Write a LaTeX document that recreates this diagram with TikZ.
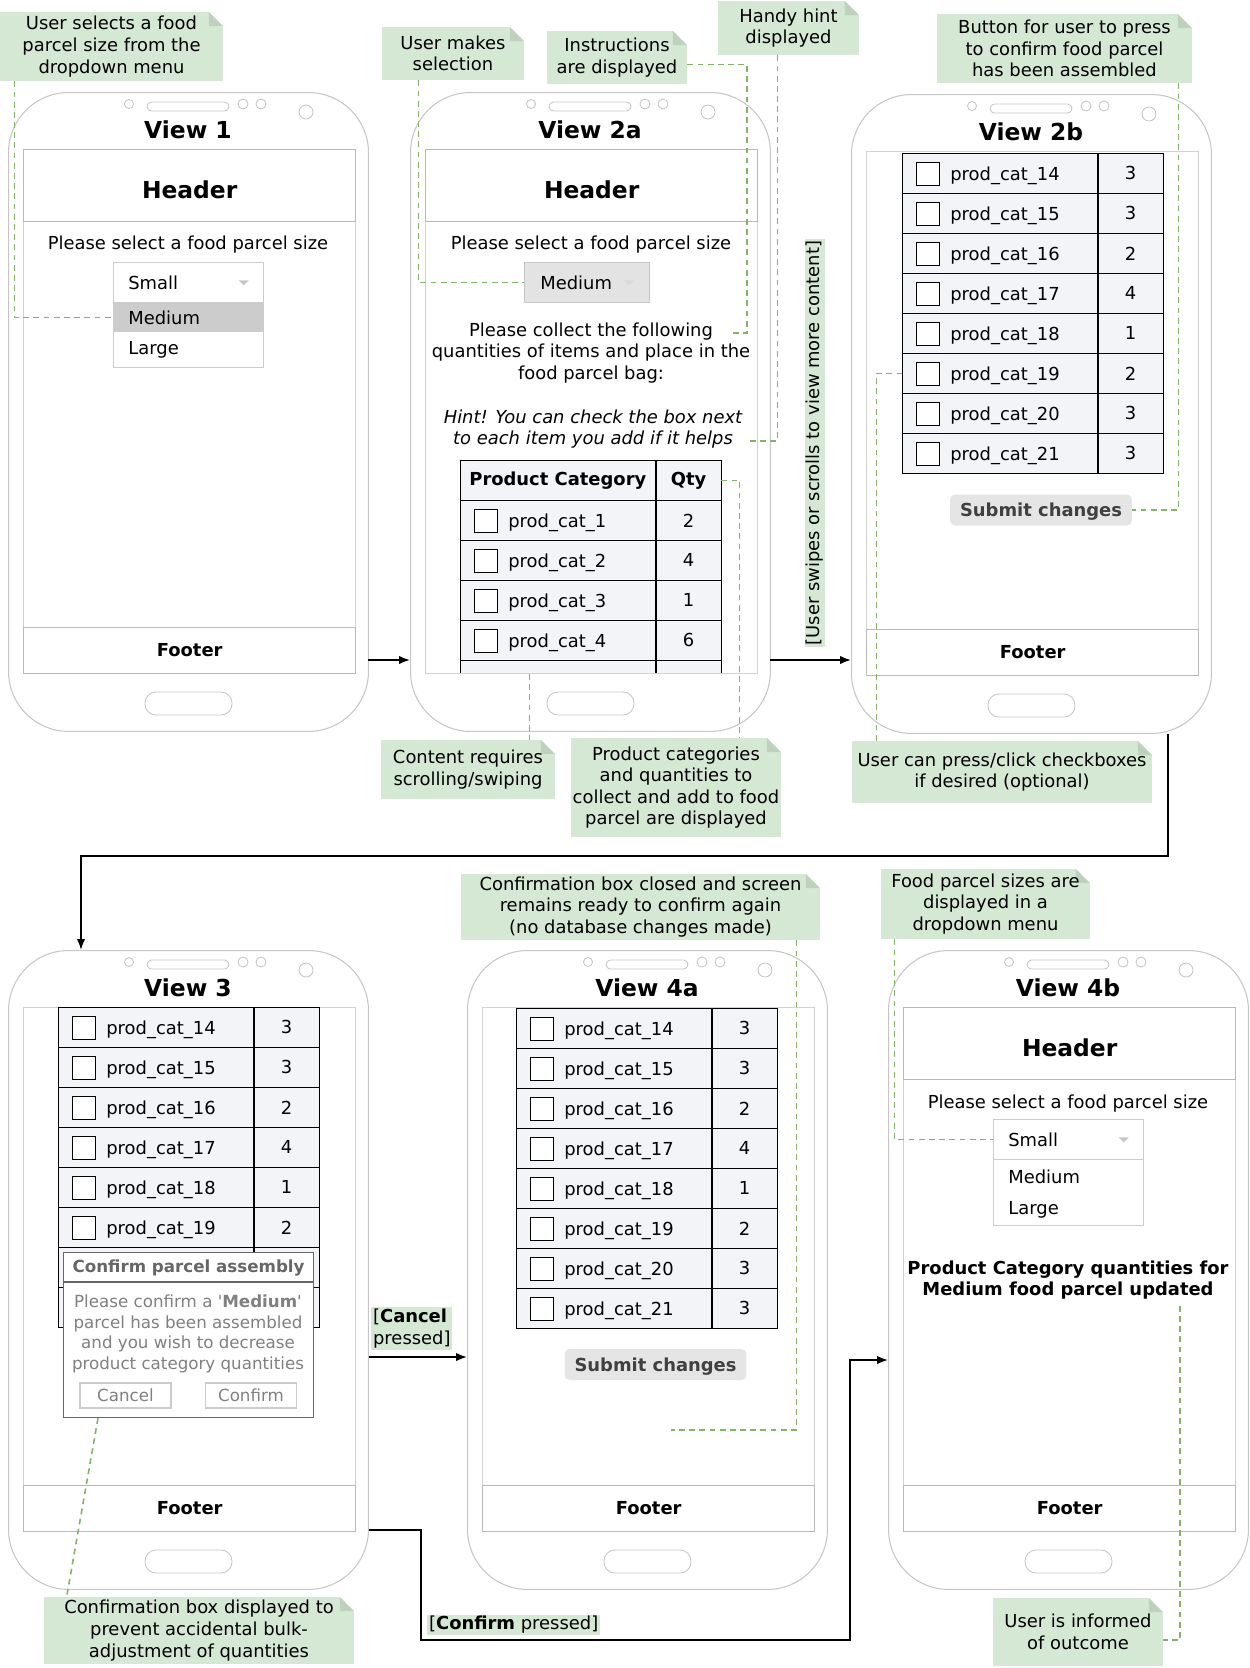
\documentclass[tikz,border=0pt]{standalone}
\usepackage{fontspec}
\setmainfont{DejaVu Sans}
\usetikzlibrary{arrows.meta, positioning, calc}

\definecolor{notegreen}{HTML}{D5E8D4}
\definecolor{notefold}{HTML}{BDD1BC}
\definecolor{linkgreen}{HTML}{82B366}
\definecolor{tablefill}{HTML}{F3F4F8}
\definecolor{hlgray}{HTML}{CCCCCC}
\definecolor{dlggray}{HTML}{666666}
\definecolor{dlgtext}{HTML}{808080}

\begin{document}
\begin{tikzpicture}[x=0.02cm, y=-0.02cm,
    phonebody/.style={draw=gray!45, line width=0.6pt, rounded corners=1.2cm,
                      minimum width=7.2cm, minimum height=12.78cm, inner sep=0pt, anchor=north west},
    screenbox/.style={draw=gray!35, line width=0.6pt, minimum width=6.64cm,
                      minimum height=10.48cm, inner sep=0pt, anchor=north west},
    phoneline/.style={draw=gray!45, line width=0.5pt},
    viewtitle/.style={font=\fontsize{13.3}{16}\selectfont\bfseries},
    bar/.style={draw=gray!55, line width=0.8pt, fill=white, minimum width=6.64cm, inner sep=0pt},
    header/.style={bar, minimum height=1.44cm, anchor=north west, text height=0.5cm,
                   font=\fontsize{13.3}{16}\selectfont\bfseries},
    footer/.style={bar, minimum height=0.92cm, anchor=south west, font=\bfseries},
    ddrow/.style={minimum height=0.8cm, text width=2.4cm, inner xsep=0.3cm, inner ysep=0pt,
                  align=left, anchor=north west},
    namecell/.style={draw, fill=tablefill, minimum width=3.9cm, minimum height=0.8cm,
                     inner sep=0pt, anchor=north west},
    qtycell/.style={draw, fill=tablefill, minimum width=1.3cm, minimum height=0.8cm,
                    inner sep=0pt, anchor=west},
    chk/.style={draw, fill=white, minimum size=0.46cm, inner sep=0pt, anchor=west},
    submit/.style={fill=gray!20, rounded corners=0.1cm, minimum width=3.64cm, text depth=0pt,
                   minimum height=0.62cm, font=\bfseries, text=black!75},
    btn/.style={draw=gray!40, line width=0.7pt, minimum width=1.82cm, minimum height=0.5cm,
                inner sep=0pt, text=dlgtext, font=\fontsize{9.5}{11.8}\selectfont},
    note/.style={fill=notegreen, align=center, inner sep=0pt,
                 path picture={
                   \fill[white] ($(path picture bounding box.north east)+(-14,0)$)
                        -- (path picture bounding box.north east) -- ++(0,14) -- cycle;
                   \fill[notefold] ($(path picture bounding box.north east)+(-14,0)$)
                        -- ++(0,14) -- ++(14,0) -- cycle;}},
    link/.style={draw=linkgreen, line width=0.9pt, dash pattern=on 3.3pt off 2.5pt},
    arrow/.style={-{Latex[length=2.2mm, width=1.7mm]}, line width=1pt},
    lbl/.style={fill=notegreen, inner sep=1pt},
    pics/phone/.style={code={
        \node[phonebody] (-body) at (0,0) {};
        \node[screenbox] (-screen) at (15,57) {};
        \draw[phoneline] (121,12) circle[radius=0.09cm];
        \draw[phoneline, rounded corners=0.09cm] (139,10) rectangle (221,19);
        \draw[phoneline] (235,12) circle[radius=0.1cm] (253,12) circle[radius=0.1cm];
        \draw[phoneline] (298,20) circle[radius=0.14cm];
        \draw[phoneline, rounded corners=0.22cm] (137,600) rectangle (224,623);
        \node[viewtitle] (-title) at (180,38) {#1};
        \coordinate (-in) at (0,568);
        \coordinate (-out) at (360,568);
    }},
]
\fontsize{10.2}{12.3}\selectfont
\useasboundingbox (0,0) rectangle (1249,1668);

% phones
\pic (v1)  at (8,92)    {phone={View 1}};
\pic (v2a) at (410,92)  {phone={View 2a}};
\pic (v2b) at (851,94)  {phone={View 2b}};
\pic (v3)  at (8,950)   {phone={View 3}};
\pic (v4a) at (467,950) {phone={View 4a}};
\pic (v4b) at (888,950) {phone={View 4b}};

\foreach \v in {v1,v2a,v4b} \node[header] (\v-hdr) at (\v-screen.north west) {Header};
\foreach \v in {v1,v2b,v3,v4a,v4b} \node[footer] (\v-ftr) at (\v-screen.south west) {Footer};

% view 1
\node (v1sel) at (188,245) {Please select a food parcel size};
\node[ddrow, draw=gray!40] (v1small) at (113,262) {Small};
\node[ddrow, fill=hlgray, minimum height=0.6cm] (v1med) at (113,302) {Medium};
\node[ddrow, minimum height=0.7cm] (v1large) at (113,332) {Large};
\draw[gray!40] (v1med.north west) rectangle (v1large.south east);
\fill[gray!45] ($(v1small.east)+(-25,-2)$) -- ++(10,0) -- ++(-5,5) -- cycle;

% view 2a
\node (v2asel) at (591,245) {Please select a food parcel size};
\node[ddrow, fill=gray!22, draw=gray!45, text width=1.86cm, inner xsep=0.32cm] (v2amed) at (524,262) {Medium};
\fill[gray!30] ($(v2amed.east)+(-26,-2)$) -- ++(10,0) -- ++(-5,5) -- cycle;
\node[align=center] (instr) at (591,353) {Please collect the following\\quantities of items and place in the\\food parcel bag:};
\node[align=center, font=\itshape] (hint) at (593,429) {Hint! You can check the box next\\to each item you add if it helps};
\coordinate (instr-end) at (733,333);
\coordinate (hint-end) at (750,441);

\begin{scope}
\clip (v2a-screen.north west) rectangle ($(v2a-screen.south east)+(0,-1)$);
\node[namecell, font=\bfseries] (t2a-hdr) at (460,460) {Product Category};
\node[qtycell, font=\bfseries] (t2a-hdr-q) at (t2a-hdr.east) {Qty};
\foreach \n/\q [count=\i] in {1/2,2/4,3/1,4/6} {
    \node[namecell] (t2a-\i) at (460,{460+40*\i}) {};
    \node[qtycell] at (t2a-\i.east) {\q};
    \node[chk] at ($(t2a-\i.west)+(14,0)$) {};
    \node[anchor=base west, inner sep=0pt] at ($(t2a-\i.west)+(48,7)$) {prod\_cat\_\n};
}
\node[namecell] (t2a-5) at (460,660) {};
\node[qtycell] at (t2a-5.east) {};
\end{scope}

% tables of views 2b, 3 and 4a (rows under the dialog of view 3 stay empty)
\foreach \tn/\tx/\ty/\nrows in {tb/902/153/7,tc/58/1007/5,td/516/1008/7} {
    \foreach \n/\q [count=\i from 0] in {14/3,15/3,16/2,17/4,18/1,19/2,20/3,21/3} {
        \node[namecell] (\tn-\i) at (\tx,{\ty+40*\i}) {};
        \ifnum\i>\nrows\relax
            \node[qtycell] at (\tn-\i.east) {};
        \else
            \node[qtycell] at (\tn-\i.east) {\q};
            \node[chk] at ($(\tn-\i.west)+(14,0)$) {};
            \node[anchor=base west, inner sep=0pt] at ($(\tn-\i.west)+(48,7)$) {prod\_cat\_\n};
        \fi
    }
}
\node[submit] (sub2b) at (1041,510) {Submit changes};
\node[submit] (sub4a) at (655.5,1364.5) {Submit changes};

% view 3 dialog
\node[draw=dlggray, fill=white, line width=0.7pt, minimum width=5cm, minimum height=3.3cm,
      inner sep=0pt, anchor=north west] (dlg) at (63,1252) {};
\draw[dlggray, line width=0.7pt] ($(dlg.north west)+(0,30)$) -- ($(dlg.north east)+(0,30)$);
\node[font=\fontsize{9.5}{11.8}\selectfont\bfseries, text=dlggray] (dlg-title) at ($(dlg.north)+(0,16)$) {Confirm parcel assembly};
\node[font=\fontsize{9.5}{11.8}\selectfont, text=dlgtext, align=center] (dlg-msg) at (188,1334)
    {Please confirm a \textquotesingle\textbf{Medium}\textquotesingle\\parcel has been assembled\\and you wish to decrease\\product category quantities};
\node[btn] (dlg-cancel) at (125.5,1395.5) {Cancel};
\node[btn] (dlg-confirm) at (251,1395.5) {Confirm};

% view 4b
\node (v4bsel) at (1068,1104) {Please select a food parcel size};
\node[ddrow, draw=gray!40] (v4bsmall) at (993,1119) {Small};
\node[ddrow, minimum height=0.68cm] (v4bmed) at (993,1159) {Medium};
\node[ddrow, minimum height=0.64cm] (v4blarge) at (993,1193) {Large};
\draw[gray!40] (v4bmed.north west) rectangle (v4blarge.south east);
\fill[gray!45] ($(v4bsmall.east)+(-25,-2)$) -- ++(10,0) -- ++(-5,5) -- cycle;
\node[align=center, font=\bfseries] (upd) at (1068,1280) {Product Category quantities for\\Medium food parcel updated};

% notes
\node[note, minimum width=4.46cm, minimum height=1.38cm] (n1) at (111.5,46.5) {User selects a food\\parcel size from the\\dropdown menu};
\node[note, minimum width=2.84cm, minimum height=1.06cm] (n2) at (453,53.5) {User makes\\selection};
\node[note, minimum width=2.8cm, minimum height=1.06cm] (n3) at (617,57.5) {Instructions\\are displayed};
\node[note, minimum width=2.82cm, minimum height=1.08cm] (n4) at (788.5,28) {Handy hint\\displayed};
\node[note, minimum width=5.1cm, minimum height=1.38cm] (n5) at (1064.5,48.5) {Button for user to press\\to confirm food parcel\\has been assembled};
\node[note, minimum width=3.48cm, minimum height=1.18cm] (n6) at (468,769.5) {Content requires\\scrolling/swiping};
\node[note, minimum width=4.2cm, minimum height=1.98cm] (n7) at (676,787.5) {Product categories\\and quantities to\\collect and add to food\\parcel are displayed};
\node[note, minimum width=6cm, minimum height=1.24cm] (n8) at (1002,772) {User can press/click checkboxes\\if desired (optional)};
\node[note, minimum width=7.18cm, minimum height=1.32cm] (n9) at (640.5,907) {Confirmation box closed and screen\\remains ready to confirm again\\(no database changes made)};
\node[note, minimum width=4.18cm, minimum height=1.4cm] (n10) at (985.5,904) {Food parcel sizes are\\displayed in a\\dropdown menu};
\node[note, minimum width=6.2cm, minimum height=1.34cm] (n11) at (199,1630.5) {Confirmation box displayed to\\prevent accidental bulk-\\adjustment of quantities};
\node[note, minimum width=3.4cm, minimum height=1.36cm] (n12) at (1078,1632) {User is informed\\of outcome};

% dotted links
\coordinate (n6-top) at ($(n6.north west)+(149,0)$);
\coordinate (n9-end) at (671,1430);
\draw[link] ($(n1.south west)+(15,0)$) |- (v1med.west);
\draw[link] ($(n2.south west)+(37,0)$) |- (v2amed.west);
\draw[link] ($(n3.east)+(0,7)$) -| ($(instr-end)+(14,0)$) -- (instr-end);
\draw[link] ($(n4.south west)+(60,0)$) |- (hint-end);
\draw[link] ($(n5.south east)+(-14,0)$) |- (sub2b.east);
\draw[link] (n6-top |- v2a-screen.south) -- (n6-top);
\draw[link] (t2a-hdr-q.east) -| ($(n7.north west)+(169,0)$);
\draw[link] ($(n8.north west)+(25,0)$) |- (tb-5.west);
\draw[link] ($(n9.south east)+(-24,0)$) |- (n9-end);
\draw[link] ($(n10.south west)+(14,0)$) |- (v4bsmall.west);
\draw[link] ($(dlg.south west)+(35,0)$) -- ($(n11.north west)+(23,0)$);
\draw[link] ($(upd.south)+(112,0)$) |- ($(n12.east)+(0,8)$);

% flow
\draw[arrow] (v1-out) -- (v2a-in);
\draw[arrow] (v2a-out) -- (v2a-out -| v2b-body.west);
\node[lbl, rotate=90] (swipe) at (815,443) {[User swipes or scrolls to view more content]};
\draw[arrow] ($(v2b-body.south west)+(317,0)$) |- ($(v3-body.north west)+(73,-94)$) -- ($(v3-body.north west)+(73,0)$);
\draw[arrow] ($(v3-body.north east)+(0,407)$) -- ($(v4a-body.north west)+(0,407)$);
\node[lbl, align=left, anchor=north west] (cancel-lbl) at (371,1307) {[\textbf{Cancel}\\pressed]};
\draw[arrow] ($(v3-body.north east)+(0,580)$) -- ++(52,0) -- ++(0,110) -| ($(v4b-body.north west)+(-38,410)$) -- ($(v4b-body.north west)+(0,410)$);
\node[lbl, anchor=west] (confirm-lbl) at (427,1625) {[\textbf{Confirm} pressed]};
\end{tikzpicture}
\end{document}
